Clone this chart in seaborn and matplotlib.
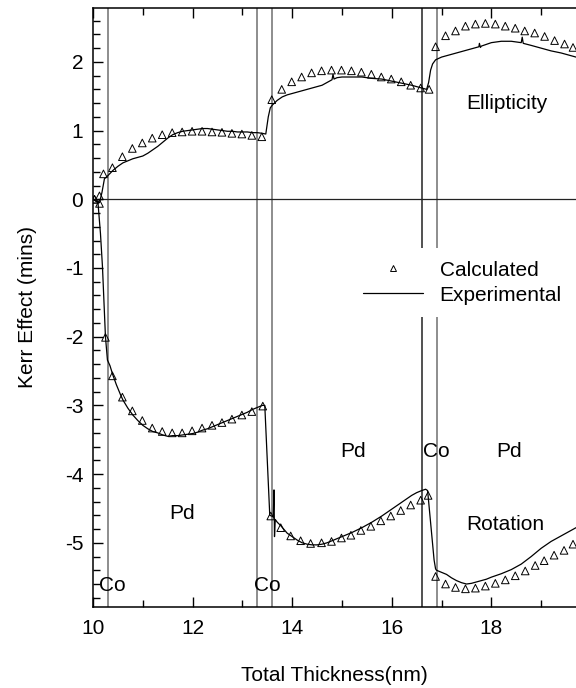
import numpy as np
import pandas as pd
import matplotlib
matplotlib.use("Agg")
import matplotlib.pyplot as plt
from matplotlib.lines import Line2D
from matplotlib.ticker import MultipleLocator
import seaborn as sns

# Layer interfaces of the Co/Pd stack (nm)
interfaces = [10.3, 13.3, 13.6, 16.6, 16.9]

# Calculated Kerr ellipticity
calc_ell_x = [10.03, 10.13, 10.21, 10.39, 10.59, 10.79, 10.99, 11.19, 11.39, 11.59,
              11.79, 11.99, 12.19, 12.39, 12.59, 12.79, 12.99, 13.19, 13.39, 13.59,
              13.79, 13.99, 14.19, 14.39, 14.59, 14.79, 14.99, 15.19, 15.39, 15.59,
              15.79, 15.99, 16.19, 16.38, 16.58, 16.75, 16.88, 17.08, 17.28, 17.48,
              17.68, 17.88, 18.08, 18.28, 18.48, 18.67, 18.87, 19.07, 19.27, 19.47, 19.64]
calc_ell_y = [0.00, 0.05, 0.37, 0.46, 0.62, 0.74, 0.82, 0.89, 0.94, 0.97,
              0.98, 0.99, 0.99, 0.98, 0.975, 0.96, 0.95, 0.93, 0.91, 1.45,
              1.60, 1.71, 1.78, 1.84, 1.87, 1.88, 1.88, 1.87, 1.85, 1.82,
              1.78, 1.75, 1.71, 1.66, 1.62, 1.60, 2.22, 2.38, 2.45, 2.52,
              2.55, 2.56, 2.55, 2.52, 2.49, 2.45, 2.42, 2.37, 2.31, 2.26, 2.21]

# Calculated Kerr rotation
calc_rot_x = [10.03, 10.13, 10.25, 10.39, 10.59, 10.79, 10.99, 11.19, 11.39, 11.59,
              11.79, 11.99, 12.19, 12.39, 12.59, 12.79, 12.99, 13.19, 13.41, 13.57,
              13.77, 13.97, 14.17, 14.37, 14.59, 14.79, 14.99, 15.18, 15.38, 15.58,
              15.78, 15.98, 16.18, 16.38, 16.58, 16.73, 16.88, 17.08, 17.28, 17.48,
              17.68, 17.88, 18.08, 18.28, 18.48, 18.68, 18.88, 19.06, 19.26, 19.46, 19.64]
calc_rot_y = [0.00, -0.06, -2.01, -2.57, -2.88, -3.08, -3.22, -3.33, -3.38, -3.40,
              -3.40, -3.37, -3.33, -3.29, -3.25, -3.20, -3.14, -3.09, -3.01, -4.61,
              -4.78, -4.90, -4.97, -5.01, -5.00, -4.98, -4.93, -4.89, -4.82, -4.76,
              -4.68, -4.61, -4.53, -4.45, -4.38, -4.31, -5.49, -5.60, -5.65, -5.67,
              -5.66, -5.63, -5.59, -5.54, -5.48, -5.41, -5.33, -5.26, -5.18, -5.11, -5.02]

# Measured Kerr ellipticity
exp_ell_x = [10.00, 10.08, 10.13, 10.18, 10.23, 10.28, 10.32, 10.40, 10.50, 10.60,
             10.70, 10.80, 10.90, 11.00, 11.10, 11.20, 11.30, 11.40, 11.50, 11.60,
             11.70, 11.80, 11.90, 12.00, 12.10, 12.20, 12.30, 12.40, 12.50, 12.60,
             12.70, 12.80, 12.90, 13.00, 13.10, 13.20, 13.30, 13.40, 13.47, 13.52,
             13.56, 13.60, 13.70, 13.80, 13.90, 14.00, 14.20, 14.40, 14.60, 14.70,
             14.80, 14.82, 14.84, 14.90, 15.00, 15.20, 15.40, 15.50, 15.60, 15.80,
             16.00, 16.20, 16.40, 16.60, 16.70, 16.74, 16.78, 16.82, 16.88, 17.00,
             17.20, 17.40, 17.60, 17.75, 17.76, 17.78, 17.80, 18.00, 18.20, 18.40,
             18.60, 18.62, 18.64, 18.80, 19.00, 19.20, 19.40, 19.60, 19.70]
exp_ell_y = [0.00, -0.03, -0.05, 0.10, 0.30, 0.33, 0.36, 0.42, 0.48, 0.53,
             0.56, 0.59, 0.61, 0.63, 0.67, 0.72, 0.77, 0.83, 0.89, 0.94,
             0.97, 0.99, 1.00, 1.01, 1.02, 1.03, 1.03, 1.02, 1.01, 1.00,
             0.99, 0.99, 0.98, 0.98, 0.98, 0.97, 0.97, 0.96, 0.95, 1.20,
             1.33, 1.37, 1.44, 1.49, 1.52, 1.54, 1.58, 1.62, 1.66, 1.70,
             1.74, 1.82, 1.75, 1.77, 1.78, 1.78, 1.78, 1.77, 1.76, 1.75,
             1.72, 1.69, 1.66, 1.62, 1.60, 1.70, 1.88, 1.97, 2.03, 2.07,
             2.11, 2.15, 2.19, 2.22, 2.27, 2.21, 2.23, 2.28, 2.30, 2.30,
             2.28, 2.36, 2.27, 2.24, 2.20, 2.16, 2.13, 2.09, 2.07]

# Measured Kerr rotation
exp_rot_x = [10.00, 10.10, 10.15, 10.19, 10.25, 10.29, 10.34, 10.40, 10.47, 10.55,
             10.60, 10.70, 10.80, 10.90, 11.00, 11.10, 11.20, 11.30, 11.40, 11.50,
             11.60, 11.70, 11.80, 11.90, 12.00, 12.10, 12.20, 12.30, 12.40, 12.50,
             12.60, 12.70, 12.80, 12.90, 13.00, 13.10, 13.20, 13.30, 13.40, 13.45,
             13.55, 13.62, 13.635, 13.645, 13.66, 13.70, 13.77, 13.90, 14.00, 14.10,
             14.20, 14.30, 14.40, 14.50, 14.60, 14.70, 14.80, 14.90, 15.00, 15.20,
             15.40, 15.60, 15.80, 16.00, 16.20, 16.40, 16.50, 16.60, 16.68, 16.72,
             16.85, 16.88, 16.90, 17.00, 17.10, 17.20, 17.30, 17.40, 17.50, 17.60,
             17.70, 17.80, 17.90, 18.00, 18.20, 18.40, 18.60, 18.80, 19.00, 19.20,
             19.40, 19.60, 19.70]
exp_rot_y = [0.00, -0.05, -0.50, -0.98, -2.00, -2.34, -2.42, -2.56, -2.70, -2.84,
             -2.92, -3.04, -3.14, -3.22, -3.29, -3.34, -3.38, -3.40, -3.43, -3.45,
             -3.44, -3.44, -3.43, -3.42, -3.41, -3.39, -3.36, -3.34, -3.31, -3.28,
             -3.25, -3.22, -3.19, -3.16, -3.13, -3.10, -3.06, -3.03, -3.00, -3.00,
             -4.60, -4.62, -4.23, -4.91, -4.66, -4.70, -4.75, -4.86, -4.91, -4.96,
             -5.00, -5.02, -5.03, -5.03, -5.02, -5.00, -4.97, -4.94, -4.91, -4.85,
             -4.78, -4.70, -4.61, -4.51, -4.41, -4.31, -4.27, -4.24, -4.22, -4.24,
             -5.25, -5.38, -5.40, -5.43, -5.46, -5.51, -5.55, -5.58, -5.60, -5.59,
             -5.57, -5.55, -5.53, -5.50, -5.45, -5.39, -5.31, -5.20, -5.08, -4.98,
             -4.90, -4.82, -4.78]

# Region labels
layer_labels = ["Co", "Pd", "Co", "Pd", "Co", "Pd"]

sns.set_style("ticks")
plt.rcParams["font.family"] = ["Liberation Sans", "DejaVu Sans"]
plt.rcParams["axes.unicode_minus"] = False
plt.rcParams["text.color"] = "black"
plt.rcParams["axes.labelcolor"] = "black"
plt.rcParams["xtick.color"] = "black"
plt.rcParams["ytick.color"] = "black"

fig = plt.figure(figsize=(5.76, 6.88), dpi=100)
ax = fig.add_axes([93 / 576, 1 - 606.7 / 688, 1 - 93 / 576, (606.7 - 8.3) / 688])

# Interfaces and zero line
for xi in interfaces:
    ax.axvline(xi, color="#333333" if xi == 16.6 else "#7a7a7a", lw=1.2, zorder=1)
ax.axhline(0, color="#222222", lw=0.9, zorder=1)

# Experimental curves
for xs, ys in [(exp_ell_x, exp_ell_y), (exp_rot_x, exp_rot_y)]:
    df = pd.DataFrame({"x": xs, "y": ys})
    sns.lineplot(data=df, x="x", y="y", ax=ax, color="black", lw=0.9,
                 sort=False, estimator=None, zorder=3)

# Calculated points
for xs, ys in [(calc_ell_x, calc_ell_y), (calc_rot_x, calc_rot_y)]:
    df = pd.DataFrame({"x": xs, "y": ys})
    sns.scatterplot(data=df, x="x", y="y", ax=ax, marker="^", s=30,
                    color="white", edgecolor="black", linewidth=0.7, zorder=4)
for coll in ax.collections:
    coll.set_facecolor("none")

ax.set_xlim(10, 19.7)
ax.set_ylim(-5.93, 2.78)
ax.xaxis.set_major_locator(MultipleLocator(2))
ax.xaxis.set_minor_locator(MultipleLocator(1))
ax.yaxis.set_major_locator(MultipleLocator(1))
ax.yaxis.set_minor_locator(MultipleLocator(0.2))
ax.tick_params(which="both", direction="in", top=True, right=False,
               width=1.0, labelsize=15, color="black", labelcolor="black")
ax.tick_params(which="major", length=7.2)
ax.tick_params(which="minor", length=5)
ax.tick_params(axis="x", which="major", pad=9)
ax.tick_params(axis="y", which="major", pad=7)
for side in ["left", "bottom", "top"]:
    ax.spines[side].set_linewidth(1.1)
    ax.spines[side].set_color("black")
ax.spines["right"].set_visible(False)

ax.set_xlabel("Total Thickness(nm)", fontsize=15, labelpad=20, color="black")
ax.set_ylabel("Kerr Effect (mins)", fontsize=15, labelpad=20, color="black")

# Labels
txt_kw = dict(fontsize=15, ha="center", va="center", zorder=6, color="black")
ax.text(10.38, -5.62, layer_labels[0], **txt_kw)
ax.text(11.79, -4.57, layer_labels[1], **txt_kw)
ax.text(13.51, -5.62, layer_labels[2], **txt_kw)
ax.text(15.22, -3.67, layer_labels[3], **txt_kw)
ax.text(16.89, -3.67, layer_labels[4], **txt_kw)
ax.text(18.35, -3.67, layer_labels[5], **txt_kw)
ax.text(18.31, 1.40, "Ellipticity", **txt_kw)
ax.text(18.29, -4.74, "Rotation", **txt_kw)

handles = [
    Line2D([], [], ls="none", marker="^", ms=4.5, mfc="none", mec="black", mew=0.7),
    Line2D([], [], color="black", lw=0.9),
]
leg = ax.legend(handles, ["Calculated", "Experimental"], loc="upper left",
                bbox_to_anchor=(350 / 576, 1 - 248 / 688),
                bbox_transform=fig.transFigure, borderaxespad=0,
                fontsize=15, frameon=True, fancybox=False, framealpha=1,
                edgecolor="none", facecolor="white", handlelength=2.9,
                handletextpad=0.8, labelspacing=0.3, borderpad=0.6)
for t in leg.get_texts():
    t.set_color("black")
leg.set_zorder(5)

fig.savefig("out.png", dpi=100)
